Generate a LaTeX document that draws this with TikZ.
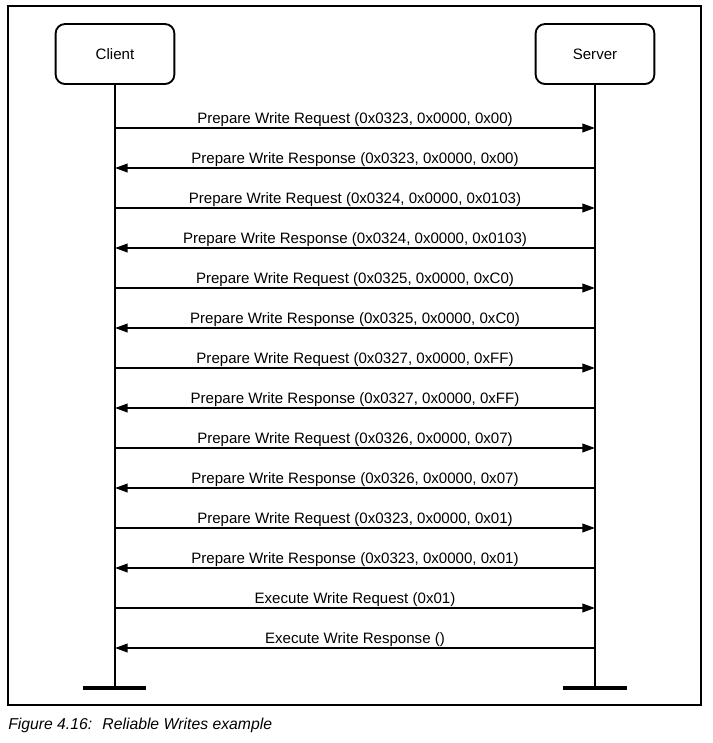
\documentclass[tikz,border=0pt]{standalone}
\usepackage{fontspec}
\setmainfont{Liberation Sans}
\usetikzlibrary{arrows.meta,positioning}

\begin{document}
\begin{tikzpicture}
        [x=0.75pt, y=-0.75pt,
          party/.style={draw, line width=1.4pt, rounded corners=7pt, minimum width=89pt, minimum height=45pt, font=\fontsize{11.3}{13}\selectfont},
          life/.style={line width=1.3pt},
          foot/.style={line width=2.6pt},
          msg/.style={line width=1.3pt, -{Triangle[length=9.5pt,width=6.5pt]}},
          msglabel/.style={anchor=base, yshift=3.5pt, inner sep=0pt, font=\fontsize{11.3}{13}\selectfont}]
        \useasboundingbox (0,0) rectangle (713,743);
        \draw[line width=1pt] (8,6) rectangle (701,705);
        \node[party] (client) at (115,54) {Client};
        \node[party] (server) at (595,54) {Server};
        \coordinate (clientend) at (115,688);
        \coordinate (serverend) at (595,688);
        \draw[life] (client) -- (clientend);
        \draw[life] (server) -- (serverend);
        \draw[foot] ([xshift=-24pt]clientend) -- ([xshift=23pt]clientend);
        \draw[foot] ([xshift=-24pt]serverend) -- ([xshift=24pt]serverend);
        % odd: request, even: response
        \foreach \lbl [count=\i, evaluate=\i as \y using 88+40*\i] in
          {{Prepare Write Request (0x0323, 0x0000, 0x00)},
           {Prepare Write Response (0x0323, 0x0000, 0x00)},
           {Prepare Write Request (0x0324, 0x0000, 0x0103)},
           {Prepare Write Response (0x0324, 0x0000, 0x0103)},
           {Prepare Write Request (0x0325, 0x0000, 0xC0)},
           {Prepare Write Response (0x0325, 0x0000, 0xC0)},
           {Prepare Write Request (0x0327, 0x0000, 0xFF)},
           {Prepare Write Response (0x0327, 0x0000, 0xFF)},
           {Prepare Write Request (0x0326, 0x0000, 0x07)},
           {Prepare Write Response (0x0326, 0x0000, 0x07)},
           {Prepare Write Request (0x0323, 0x0000, 0x01)},
           {Prepare Write Response (0x0323, 0x0000, 0x01)},
           {Execute Write Request (0x01)},
           {Execute Write Response ()}} {
          \coordinate (c\i) at (115,\y);
          \coordinate (s\i) at (595,\y);
          \ifodd\i
            \draw[msg] (c\i) -- node[msglabel] {\lbl} (s\i);
          \else
            \draw[msg] (s\i) -- node[msglabel] {\lbl} (c\i);
          \fi
        }
        \node[anchor=base west, inner sep=0pt, font=\fontsize{11.8}{14}\selectfont\itshape] (caption) at (8,729) {Figure 4.16:~ Reliable Writes example};
      \end{tikzpicture}
\end{document}
